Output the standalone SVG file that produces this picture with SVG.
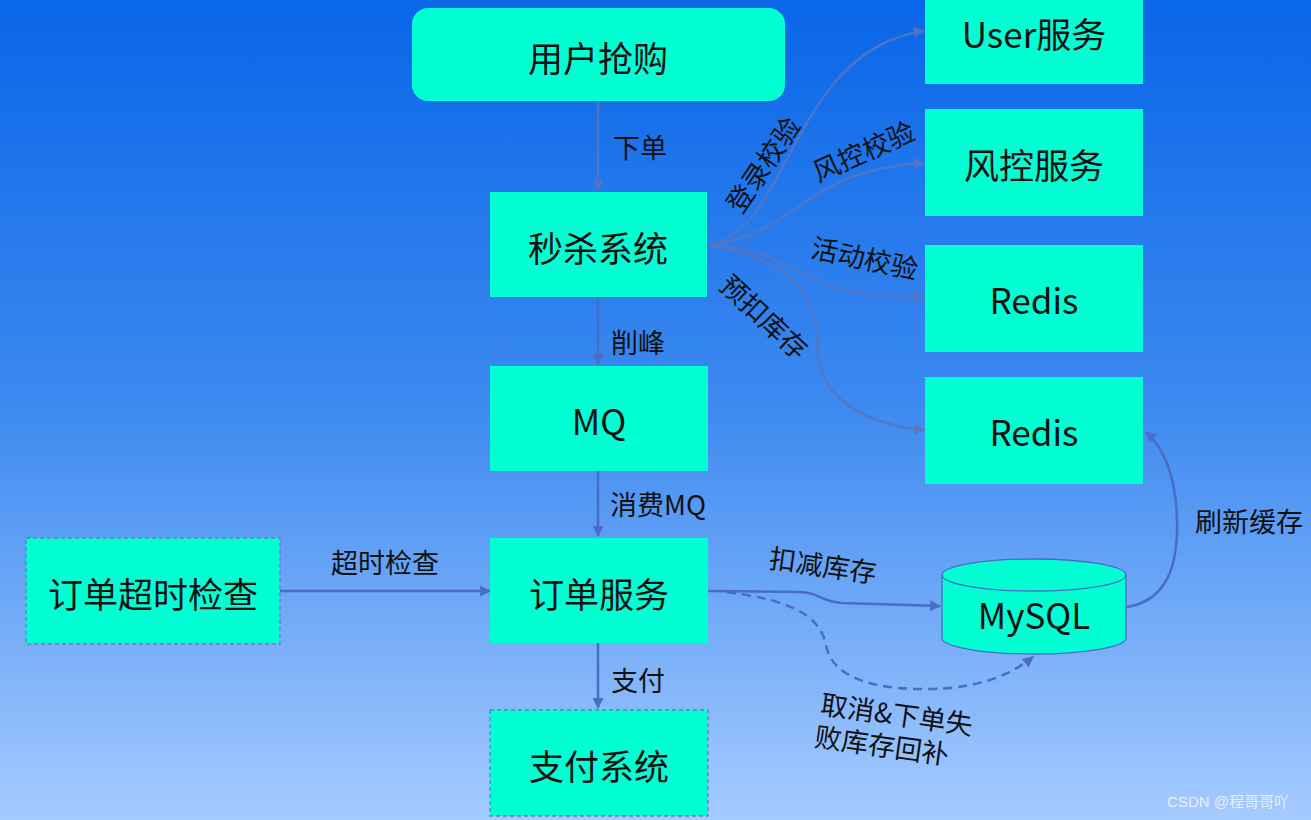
<svg xmlns="http://www.w3.org/2000/svg" width="1311" height="820" viewBox="0 0 1311 820">
<defs>
<linearGradient id="bg" x1="0" y1="0" x2="0" y2="1">
<stop offset="0" stop-color="#0966e8"/>
<stop offset="0.5" stop-color="#3d8af0"/>
<stop offset="1" stop-color="#a6cbff"/>
</linearGradient>
<marker id="arr" viewBox="0 0 10 10" refX="9" refY="5" markerWidth="12" markerHeight="11" markerUnits="userSpaceOnUse" orient="auto">
<path d="M0,0 L10,5 L0,10 z" fill="#4a6cc2"/>
</marker>
<marker id="arrg" viewBox="0 0 10 10" refX="9" refY="5" markerWidth="12" markerHeight="11" markerUnits="userSpaceOnUse" orient="auto">
<path d="M0,0 L10,5 L0,10 z" fill="#5876c0"/>
</marker>
<style>
.node{fill:#00ffd2;}
.dash{stroke:#6d78c6;stroke-width:1.3;stroke-dasharray:4 3;}
.nt{font-family:"Noto Sans CJK SC","Open Sans",sans-serif;font-size:35px;fill:#111;text-anchor:middle;dominant-baseline:central;}
.lt{font-family:"Noto Sans CJK SC",sans-serif;font-size:27px;fill:#111;text-anchor:middle;dominant-baseline:central;}
.c{fill:none;stroke:#4a6cc2;stroke-width:2.5;marker-end:url(#arr);}
.cg{fill:none;stroke:#5876c0;stroke-width:2.5;marker-end:url(#arrg);opacity:0.85;}
</style>
</defs>
<rect x="0" y="0" width="1311" height="820" fill="url(#bg)"/>

<g id="connectors">
<path class="cg" d="M598,101 L598,190"/>
<path class="c" d="M598,297 L598,364"/>
<path class="c" d="M598,471 L598,536"/>
<path class="c" d="M598,643 L598,708"/>
<path class="c" d="M280,591 L490,591"/>
<path class="cg" d="M707,245 C790,235 790,50 924,31"/>
<path class="cg" d="M707,245 C800,235 800,170 924,163"/>
<path class="cg" d="M707,245 C810,250 790,300 924,297"/>
<path class="cg" d="M707,245 C800,260 818,300 818,350 C818,400 870,425 924,430"/>
<path class="c" d="M708,591 L800,592 C822,593 818,601 842,603 L940,606"/>
<path class="c" d="M727,592 C790,600 820,615 826,645 C832,680 880,690 930,689 C980,688 1010,675 1033,657" stroke-dasharray="9 6"/>
<path class="c" d="M1127,607 C1170,600 1178,560 1177,520 C1176,480 1166,450 1146,432"/>
<text class="lt" x="640" y="146">下单</text>
<text class="lt" x="638" y="341">削峰</text>
<text class="lt" x="658" y="503">消费MQ</text>
<text class="lt" x="638" y="679">支付</text>
<text class="lt" x="385" y="561">超时检查</text>
<text class="lt" transform="translate(762,164) rotate(-56)">登录校验</text>
<text class="lt" transform="translate(863,150) rotate(-24)">风控校验</text>
<text class="lt" transform="translate(865,257) rotate(12)">活动校验</text>
<text class="lt" transform="translate(765,316) rotate(43)">预扣库存</text>
<text class="lt" transform="translate(823,564) rotate(8)">扣减库存</text>
<text class="lt" transform="translate(897,713) rotate(8)">取消&amp;下单失</text>
<text class="lt" transform="translate(882,744) rotate(8)">败库存回补</text>
<text class="lt" x="1249" y="520">刷新缓存</text>
</g>

<g id="n-user-buy">
<rect class="node" x="412" y="8" width="373" height="93" rx="16"/>
<text class="nt" x="598" y="56">用户抢购</text>
</g>
<g id="n-seckill">
<rect class="node" x="490" y="192" width="217" height="105"/>
<text class="nt" x="598" y="246">秒杀系统</text>
</g>
<g id="n-mq">
<rect class="node" x="490" y="366" width="218" height="105"/>
<text class="nt" x="599" y="419">MQ</text>
</g>
<g id="n-order">
<rect class="node" x="490" y="538" width="218" height="105"/>
<text class="nt" x="599" y="592">订单服务</text>
</g>
<g id="n-pay">
<rect class="node dash" x="490" y="710" width="218" height="106"/>
<text class="nt" x="599" y="764">支付系统</text>
</g>
<g id="n-timeout">
<rect class="node dash" x="26" y="538" width="254" height="106"/>
<text class="nt" x="153" y="592">订单超时检查</text>
</g>
<g id="n-user-svc">
<rect class="node" x="925" y="-2" width="218" height="86"/>
<text class="nt" x="1034" y="32">User服务</text>
</g>
<g id="n-risk">
<rect class="node" x="925" y="109" width="218" height="107"/>
<text class="nt" x="1034" y="163">风控服务</text>
</g>
<g id="n-redis1">
<rect class="node" x="925" y="245" width="218" height="107"/>
<text class="nt" x="1034" y="298">Redis</text>
</g>
<g id="n-redis2">
<rect class="node" x="925" y="377" width="218" height="107"/>
<text class="nt" x="1034" y="430">Redis</text>
</g>
<g id="n-mysql">
<path class="node" d="M942,575 L942,638 A92,16 0 0 0 1126,638 L1126,575 A92,16 0 0 0 942,575 z" stroke="#4a6cc2" stroke-width="1.3"/>
<path d="M942,575 A92,16 0 0 0 1126,575" fill="none" stroke="#4a6cc2" stroke-width="1.3"/>
<text class="nt" x="1034" y="613">MySQL</text>
</g>
<text x="1228" y="801" font-family="Liberation Sans, Noto Sans CJK SC, sans-serif" font-size="15" fill="#f2f4f8" opacity="0.9" text-anchor="middle" dominant-baseline="central">CSDN @程哥哥吖</text>
</svg>
